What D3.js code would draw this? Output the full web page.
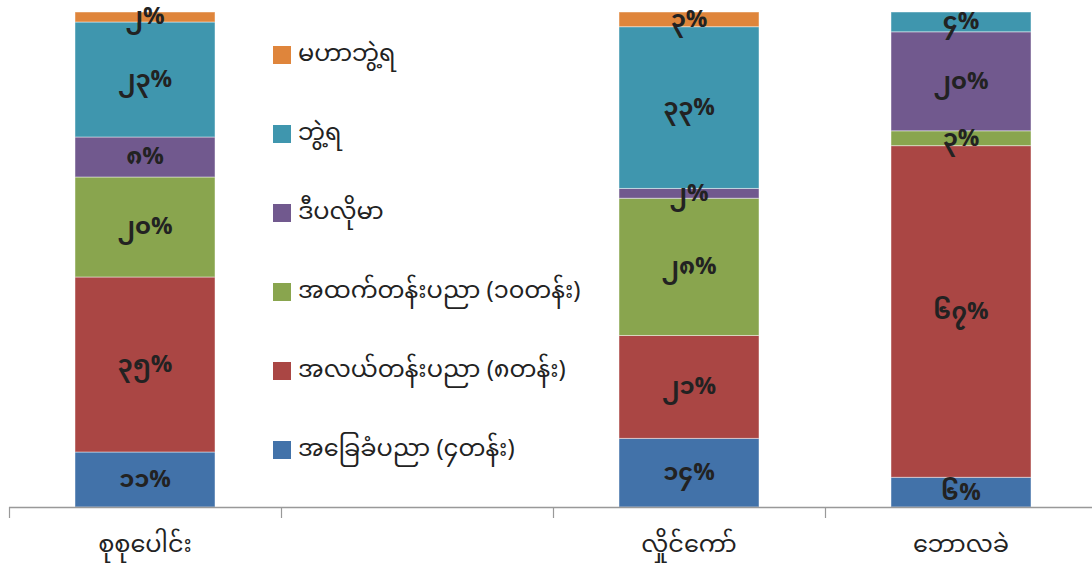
<!DOCTYPE html>
<html><head><meta charset="utf-8">
<script src="https://cdn.jsdelivr.net/npm/d3@7"></script>
<style>body{margin:0;background:#fff}svg{display:block}</style>
</head><body>
<svg id="c" width="1092" height="566"></svg>
<script>
const categories = ["စုစုပေါင်း", "", "လှိုင်ကော်", "ဘောလခဲ"];
const seriesNames = ["အခြေခံပညာ (၄တန်း)", "အလယ်တန်းပညာ (၈တန်း)", "အထက်တန်းပညာ (၁၀တန်း)", "ဒီပလိုမာ", "ဘွဲ့ရ", "မဟာဘွဲ့ရ"];
const basic   = [11, null, 14, 6];
const middle  = [35, null, 21, 67];
const high    = [20, null, 28, 3];
const diploma = [8, null, 2, 20];
const degree  = [23, null, 33, 4];
const master  = [2, null, 3, 0];
const colors = ["#4272A9", "#AA4644", "#89A54E", "#71598E", "#3F96AE", "#DF853B"];

const seriesValues = [basic, middle, high, diploma, degree, master];
const myDigits = "၀၁၂၃၄၅၆၇၈၉";
const toMy = n => String(n).replace(/[0-9]/g, d => myDigits[+d]);
const FONT = "'Noto Sans Myanmar','Padauk','Myanmar Text',sans-serif";

const svg = d3.select("#c");
const x = d3.scaleBand().domain(d3.range(categories.length)).range([9, 1097]).paddingInner(0).paddingOuter(0);
const y = d3.scaleLinear().domain([0, 1]).range([507, 12]);
const barW = 140;

const rows = categories.map((c, i) => {
  const r = {i};
  seriesNames.forEach((s, k) => r[k] = seriesValues[k][i] || 0);
  return r;
}).filter(r => categories[r.i] !== "");

const stack = d3.stack().keys(d3.range(seriesNames.length)).offset(d3.stackOffsetExpand);
const layers = stack(rows);

layers.forEach((layer, k) => {
  const g = svg.append("g");
  layer.forEach(d => {
    const v = seriesValues[k][d.data.i];
    if (!v) return;
    const cx = x(d.data.i) + x.bandwidth() / 2;
    g.append("rect")
      .attr("x", cx - barW / 2).attr("width", barW)
      .attr("y", y(d[1])).attr("height", y(d[0]) - y(d[1]))
      .attr("fill", colors[k])
      .attr("stroke", "rgba(255,255,255,0.45)").attr("stroke-width", 1);
  });
});
layers.forEach((layer, k) => {
  layer.forEach(d => {
    const v = seriesValues[k][d.data.i];
    if (!v) return;
    const cx = x(d.data.i) + x.bandwidth() / 2;
    svg.append("text")
      .attr("x", cx).attr("y", (y(d[0]) + y(d[1])) / 2 + 1)
      .attr("text-anchor", "middle").attr("dominant-baseline", "middle")
      .attr("font-family", FONT)
      .attr("font-size", 24).attr("font-weight", "bold").attr("fill", "#222")
      .text(toMy(v) + "%");
  });
});

// axis
const ax = svg.append("g").attr("transform", "translate(0,507)");
ax.append("line").attr("x1", 9).attr("x2", 1092).attr("y1", 0.5).attr("y2", 0.5).attr("stroke", "#999").attr("stroke-width", 1.5);
d3.range(categories.length + 1).forEach(i => {
  const xx = i < categories.length ? x(i) : x(categories.length - 1) + x.bandwidth();
  ax.append("line").attr("x1", xx + 0.5).attr("x2", xx + 0.5).attr("y1", 0).attr("y2", 11).attr("stroke", "#999").attr("stroke-width", 1.2);
});
categories.forEach((c, i) => {
  svg.append("text")
    .attr("x", x(i) + x.bandwidth() / 2).attr("y", 546)
    .attr("text-anchor", "middle").attr("dominant-baseline", "middle")
    .attr("font-family", FONT)
    .attr("font-size", 24).attr("fill", "#222").text(c);
});

// legend (top to bottom: reversed series order)
const legendOrder = d3.range(seriesNames.length).reverse();
legendOrder.forEach((k, j) => {
  const yy = 55 + j * 79;
  svg.append("rect").attr("x", 273).attr("y", yy - 9).attr("width", 18).attr("height", 18).attr("fill", colors[k]);
  svg.append("text").attr("x", 298).attr("y", yy).attr("dominant-baseline", "middle")
    .attr("font-family", FONT)
    .attr("font-size", 24).attr("fill", "#222").text(seriesNames[k]);
});
</script>
</body></html>
